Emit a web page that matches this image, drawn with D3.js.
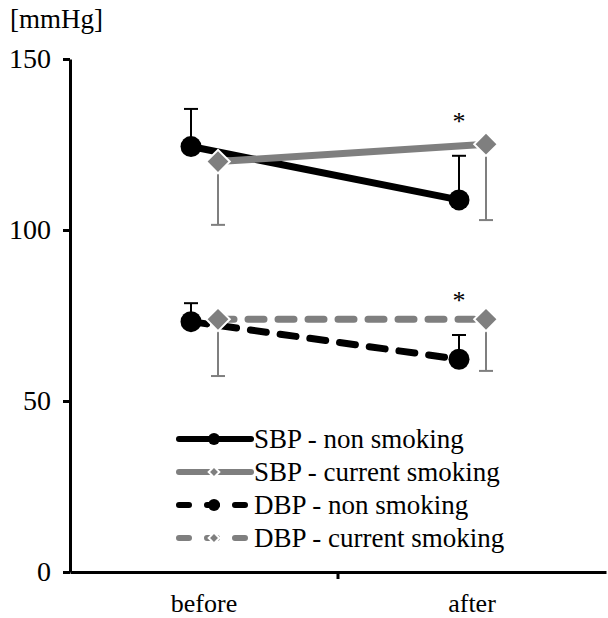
<!DOCTYPE html>
<html>
<head>
<meta charset="utf-8">
<script src="https://cdn.jsdelivr.net/npm/d3@7"></script>
<style>
	body { margin: 0; background: #fff; }
	svg text { font-family: "Liberation Serif", "Times New Roman", serif; fill: #000; }
</style>
</head>
<body>
<div id="chart"></div>
<script>
var categories = ["before", "after"];
var yTicks = [0, 50, 100, 150];
var sbpNon = [124.4, 108.8];
var sbpNonSd = [11.0, 12.9];
var sbpCur = [120.0, 125.1];
var sbpCurSd = [18.5, 22.2];
var dbpNon = [73.2, 62.2];
var dbpNonSd = [5.4, 7.1];
var dbpCur = [73.9, 73.9];
var dbpCurSd = [16.6, 15.1];
var sigAfter = ["*", "*"];
var seriesNames = ["SBP - non smoking", "SBP - current smoking", "DBP - non smoking", "DBP - current smoking"];

var series = [
	{ name: seriesNames[0], values: sbpNon, sd: sbpNonSd, color: "#000", shape: "circle", dash: null, dir: 1, dx: -13 },
	{ name: seriesNames[1], values: sbpCur, sd: sbpCurSd, color: "#7f7f7f", shape: "diamond", dash: null, dir: -1, dx: 14 },
	{ name: seriesNames[2], values: dbpNon, sd: dbpNonSd, color: "#000", shape: "circle", dash: "16,14", dir: 1, dx: -13 },
	{ name: seriesNames[3], values: dbpCur, sd: dbpCurSd, color: "#7f7f7f", shape: "diamond", dash: "16,14", dir: -1, dx: 14 }
];

var width = 608, height = 618;
var svg = d3.select("#chart").append("svg")
	.attr("width", width)
	.attr("height", height);

var x = d3.scaleBand().domain(categories).range([70, 606]);
var y = d3.scaleLinear().domain([0, 150]).range([572, 59]);

// axes
var yAxis = svg.append("g")
	.attr("transform", "translate(70,0)")
	.call(d3.axisLeft(y).tickValues(yTicks).tickSize(7).tickPadding(12).tickSizeOuter(0));
yAxis.select(".domain").attr("stroke", "#000").attr("stroke-width", 3);
yAxis.selectAll(".tick line").attr("stroke-width", 3);
yAxis.selectAll("text").style("font-size", "28px");

var xAxis = svg.append("g")
	.attr("transform", "translate(0,572)")
	.call(d3.axisBottom(x).tickSize(0).tickPadding(22));
xAxis.select(".domain").attr("stroke", "#000").attr("stroke-width", 3);
xAxis.selectAll("text").style("font-size", "26px");
// tick between categories
xAxis.append("line")
	.attr("x1", x("after")).attr("x2", x("after"))
	.attr("y1", 0).attr("y2", 7)
	.attr("stroke", "#000").attr("stroke-width", 3);

svg.append("text")
	.attr("x", 10).attr("y", 28)
	.style("font-size", "27px")
	.text("[mmHg]");

function px(s, i) { return x(categories[i]) + x.bandwidth() / 2 + s.dx; }

function drawMarker(g, s, cx, cy, r) {
	if (s.shape === "circle") {
		g.append("circle").attr("cx", cx).attr("cy", cy).attr("r", r).attr("fill", s.color);
	} else {
		g.append("path")
			.attr("d", d3.symbol().type(d3.symbolSquare).size(r * r * 2.3)())
			.attr("transform", "translate(" + cx + "," + cy + ") rotate(45)")
			.attr("fill", s.color)
			.attr("stroke", "#fff").attr("stroke-width", 2);
	}
}

// error bars
series.forEach(function(s) {
	var g = svg.append("g");
	s.values.forEach(function(v, i) {
		var cx = px(s, i);
		var end = y(v + s.dir * s.sd[i]);
		g.append("line").attr("x1", cx).attr("x2", cx).attr("y1", y(v)).attr("y2", end)
			.attr("stroke", s.color).attr("stroke-width", 2);
		g.append("line").attr("x1", cx - 7).attr("x2", cx + 7).attr("y1", end).attr("y2", end)
			.attr("stroke", s.color).attr("stroke-width", 2);
	});
});

// lines and markers
var line = d3.line();
series.forEach(function(s) {
	var g = svg.append("g");
	g.append("path")
		.attr("d", line(s.values.map(function(v, i) { return [px(s, i), y(v)]; })))
		.attr("fill", "none")
		.attr("stroke", s.color)
		.attr("stroke-width", 7)
		.attr("stroke-linecap", s.dash ? "round" : "butt")
		.attr("stroke-dasharray", s.dash);
	s.values.forEach(function(v, i) { drawMarker(g, s, px(s, i), y(v), s.shape === "circle" ? 10.5 : 11); });
});

// significance marks above the after error bars
[series[0], series[2]].forEach(function(s, k) {
	svg.append("text")
		.attr("x", px(s, 1))
		.attr("y", y(s.values[1] + s.sd[1]) - 26)
		.attr("text-anchor", "middle")
		.style("font-size", "26px")
		.text(sigAfter[k]);
});

// legend
var legend = svg.append("g");
series.forEach(function(s, i) {
	var ly = 439 + i * 33;
	legend.append("line")
		.attr("x1", 179).attr("x2", 251).attr("y1", ly).attr("y2", ly)
		.attr("stroke", s.color).attr("stroke-width", 6)
		.attr("stroke-linecap", "round")
		.attr("stroke-dasharray", s.dash ? "10,18" : null);
	drawMarker(legend, s, 214, ly, s.shape === "circle" ? 6 : 5);
	legend.append("text")
		.attr("x", 254).attr("y", ly + 9)
		.style("font-size", "27px")
		.text(s.name);
});
</script>
</body>
</html>
